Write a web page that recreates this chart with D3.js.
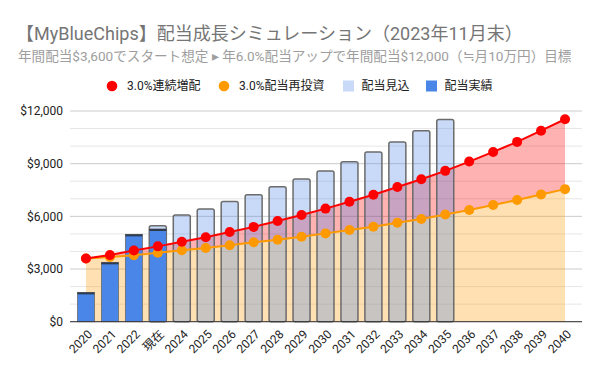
<!doctype html>
<html>
<head>
<meta charset="utf-8">
<script src="https://d3js.org/d3.v7.min.js"></script>
<style>
  body { margin: 0; background: #fff; }
  text { font-family: Roboto, "Noto Sans CJK JP", sans-serif; }
</style>
</head>
<body>
<script>
// chart data
var years = ["2020","2021","2022","現在","2024","2025","2026","2027","2028","2029","2030",
             "2031","2032","2033","2034","2035","2036","2037","2038","2039","2040"];
var growth = [3600,3800,4050,4290,4550,4810,5110,5400,5740,6080,6440,
              6830,7230,7670,8110,8590,9120,9670,10240,10880,11530];   // 3.0%連続増配
var reinvest = [3600,3690,3790,3930,4070,4200,4350,4520,4670,4840,5030,
                5220,5410,5640,5850,6110,6360,6650,6930,7250,7550];   // 3.0%配当再投資
var projected = [null,null,null,5460,6080,6420,6840,7230,7690,8130,8580,
                 9110,9660,10230,10880,11510,0,0,0,0,0];              // 配当見込
var actual = [1670,3380,4975,5280,null,null,null,null,null,null,null,
              null,null,null,null,null,null,null,null,null,null];     // 配当実績
var yTicks = [0,3000,6000,9000,12000];
var legendItems = [
  {label: "3.0%連続増配", color: "#ff0000", shape: "circle"},
  {label: "3.0%配当再投資", color: "#ff9900", shape: "circle"},
  {label: "配当見込", color: "#c9daf8", shape: "rect"},
  {label: "配当実績", color: "#4a86e8", shape: "rect"}
];
var legendX = [112, 224, 343, 426];

var width = 600, height = 371;
var plotLeft = 70, plotRight = 582, plotTop = 111, plotBottom = 321.7;

var svg = d3.select("body").append("svg")
    .attr("width", width)
    .attr("height", height);

svg.append("text")
    .attr("x", 16).attr("y", 40)
    .attr("font-size", "18px")
    .attr("fill", "#757575")
    .text("【MyBlueChips】配当成長シミュレーション（2023年11月末）");

svg.append("text")
    .attr("x", 18).attr("y", 61)
    .attr("font-size", "13.6px")
    .attr("fill", "#9e9e9e")
    .text("年間配当$3,600でスタート想定 ▸ 年6.0%配当アップで年間配当$12,000（≒月10万円）目標");

// legend
var leg = svg.append("g").selectAll("g")
    .data(legendItems).enter().append("g")
    .attr("transform", (d, i) => "translate(" + legendX[i] + ",86)");
leg.filter(d => d.shape == "circle").append("circle")
    .attr("r", 5.3).attr("fill", d => d.color);
leg.filter(d => d.shape == "rect").append("rect")
    .attr("x", 0).attr("y", -5.5).attr("width", 11).attr("height", 11)
    .attr("fill", d => d.color);
leg.append("text")
    .attr("x", d => d.shape == "circle" ? 15 : 18.5)
    .attr("y", 4.3)
    .attr("font-size", "12px")
    .attr("fill", "#222")
    .text(d => d.label);

// scales
var x = d3.scaleBand()
    .domain(years)
    .range([74, 577])
    .paddingInner(0.29)
    .paddingOuter(0.145);
var cx = d => x(d) + x.bandwidth() / 2;

var y = d3.scaleLinear()
    .domain([0, 12000])
    .range([plotBottom, plotTop]);

// gridlines
svg.append("g").selectAll("line")
    .data(d3.range(0, 12001, 1000)).enter().append("line")
    .attr("x1", plotLeft).attr("x2", plotRight)
    .attr("y1", d => y(d)).attr("y2", d => y(d))
    .attr("stroke", d => d % 3000 == 0 ? "#cccccc" : "#e6e6e6")
    .attr("stroke-width", 1);

var yAxis = svg.append("g")
    .attr("transform", "translate(" + (plotLeft - 7) + ",0)")
    .call(d3.axisLeft(y).tickValues(yTicks).tickSize(0).tickPadding(0)
      .tickFormat(d => "$" + d3.format(",")(d)));
yAxis.select(".domain").remove();
yAxis.selectAll("text")
    .attr("font-size", "12px")
    .attr("font-family", "Roboto, sans-serif")
    .attr("fill", "#222");

// areas
var idx = d3.range(years.length);
var orangeArea = d3.area()
    .x(i => cx(years[i]))
    .y0(y(0))
    .y1(i => y(reinvest[i]));
var redArea = d3.area()
    .x(i => cx(years[i]))
    .y0(i => y(reinvest[i]))
    .y1(i => y(growth[i]));

svg.append("path").datum(idx)
    .attr("d", orangeArea)
    .attr("fill", "#ff9900").attr("fill-opacity", 0.3);
svg.append("path").datum(idx)
    .attr("d", redArea)
    .attr("fill", "#ff0000").attr("fill-opacity", 0.3);

// projected bars (translucent)
svg.append("g").selectAll("rect")
    .data(idx.filter(i => projected[i] != null)).enter().append("rect")
    .attr("x", i => x(years[i]))
    .attr("y", i => y(projected[i]))
    .attr("width", x.bandwidth())
    .attr("height", i => y(0) - y(projected[i]))
    .attr("rx", 2)
    .attr("fill", "#4a86e8").attr("fill-opacity", 0.3)
    .attr("stroke", "#6b6b6b").attr("stroke-width", 1.5);

// actual bars
var act = svg.append("g").selectAll("g")
    .data(idx.filter(i => actual[i] != null)).enter().append("g");
act.append("rect")
    .attr("x", i => x(years[i]))
    .attr("y", i => y(actual[i]))
    .attr("width", x.bandwidth())
    .attr("height", i => y(0) - y(actual[i]))
    .attr("fill", "#4a86e8")
    .attr("stroke", "#6b6b6b").attr("stroke-width", 0.8);
act.append("line")
    .attr("x1", i => x(years[i])).attr("x2", i => x(years[i]) + x.bandwidth())
    .attr("y1", i => y(actual[i]) + 1).attr("y2", i => y(actual[i]) + 1)
    .attr("stroke", "#2f3a4a").attr("stroke-width", 2);

// lines with dots
function drawSeries(vals, color) {
  var line = d3.line().x(i => cx(years[i])).y(i => y(vals[i]));
  svg.append("path").datum(idx)
    .attr("d", line)
    .attr("fill", "none")
    .attr("stroke", color).attr("stroke-width", 2);
  svg.append("g").selectAll("circle")
    .data(idx).enter().append("circle")
    .attr("cx", i => cx(years[i]))
    .attr("cy", i => y(vals[i]))
    .attr("r", 5)
    .attr("fill", color);
}
drawSeries(reinvest, "#ff9900");
drawSeries(growth, "#ff0000");

// baseline
svg.append("line")
    .attr("x1", plotLeft).attr("x2", plotRight)
    .attr("y1", y(0)).attr("y2", y(0))
    .attr("stroke", "#333").attr("stroke-width", 1);

// x labels
svg.append("g").selectAll("text")
    .data(years).enter().append("text")
    .attr("transform", d => "translate(" + (cx(d) + 7) + ",335) rotate(-45)")
    .attr("text-anchor", "end")
    .attr("font-size", "12px")
    .attr("fill", "#222")
    .text(d => d);
</script>
</body>
</html>
